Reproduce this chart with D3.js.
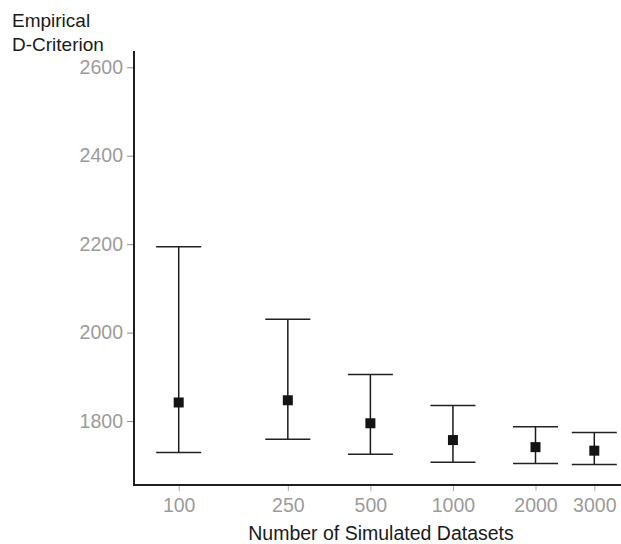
<!DOCTYPE html>
<html>
<head>
<meta charset="utf-8">
<script src="https://cdn.jsdelivr.net/npm/d3@7/dist/d3.min.js"></script>
<style>
  html, body { margin: 0; padding: 0; background: #fff; }
  svg { display: block; font-family: Arial, "Liberation Sans", sans-serif; }
</style>
</head>
<body>
<svg id="chart" width="621" height="544"></svg>
<script>
// Number of simulated datasets (x) and the empirical D-criterion summary
const datasetSizes = [100, 250, 500, 1000, 2000, 3000];
const meanValues   = [1842, 1847, 1795, 1757, 1741, 1733];
const lowerValues  = [1729, 1759, 1725, 1707, 1704, 1702];
const upperValues  = [2194, 2030, 1905, 1835, 1787, 1774];
const yTickValues  = [1800, 2000, 2200, 2400, 2600];
const xTickLabels  = ["100", "250", "500", "1000", "2000", "3000"];

const svg = d3.select("#chart");
const W = 621, H = 544;
const plot = { left: 134, right: 621, top: 51, bottom: 485 };

// Log-spaced x positions (the last category sits a little wider)
const x = d3.scaleLog()
  .domain([100, 2000, 3000])
  .range([178.7, 535.5, 594.3]);

const y = d3.scaleLinear()
  .domain([1655.4, 2636.8])
  .range([plot.bottom, plot.top]);

const rows = datasetSizes.map((n, i) => ({
  n, mean: meanValues[i], lo: lowerValues[i], hi: upperValues[i]
}));

// Y axis
const yAxis = d3.axisLeft(y).tickValues(yTickValues).tickSize(7).tickPadding(4).tickFormat(d3.format("d"));
const gy = svg.append("g").attr("transform", `translate(${plot.left},0)`).call(yAxis);
gy.select(".domain").remove();
gy.selectAll(".tick line").attr("stroke", "#8c8c8c").attr("stroke-width", 1);
gy.selectAll(".tick text").attr("fill", "#9b9b9b").style("font-size", "19.5px");

// X axis
const xAxis = d3.axisBottom(x).tickValues(datasetSizes).tickSize(6).tickPadding(7)
  .tickFormat((d, i) => xTickLabels[i]);
const gx = svg.append("g").attr("transform", `translate(0,${plot.bottom})`).call(xAxis);
gx.select(".domain").remove();
gx.selectAll(".tick line").attr("stroke", "#a8a8a8").attr("stroke-width", 1);
gx.selectAll(".tick text").attr("fill", "#9b9b9b").style("font-size", "19.5px");

// Axis frame lines (left and bottom)
svg.append("path")
  .attr("d", `M${plot.left},${plot.top}V${plot.bottom}H${plot.right}`)
  .attr("fill", "none").attr("stroke", "#1e1e1e").attr("stroke-width", 2);

// Error bars
const capHalf = 22.5;
const bars = svg.append("g").selectAll("g").data(rows).join("g");
bars.append("line")
  .attr("x1", d => x(d.n)).attr("x2", d => x(d.n))
  .attr("y1", d => y(d.lo)).attr("y2", d => y(d.hi))
  .attr("stroke", "#1a1a1a").attr("stroke-width", 1.5);
bars.append("line")
  .attr("x1", d => x(d.n) - capHalf).attr("x2", d => x(d.n) + capHalf)
  .attr("y1", d => y(d.hi)).attr("y2", d => y(d.hi))
  .attr("stroke", "#222").attr("stroke-width", 1.5);
bars.append("line")
  .attr("x1", d => x(d.n) - capHalf).attr("x2", d => x(d.n) + capHalf)
  .attr("y1", d => y(d.lo)).attr("y2", d => y(d.lo))
  .attr("stroke", "#222").attr("stroke-width", 1.5);

// Mean markers
const sq = 10;
bars.append("rect")
  .attr("x", d => x(d.n) - sq / 2).attr("y", d => y(d.mean) - sq / 2)
  .attr("width", sq).attr("height", sq)
  .attr("fill", "#141414");

// Axis titles
const yTitle = svg.append("text").attr("fill", "#1a1a1a").style("font-size", "19px");
yTitle.append("tspan").attr("x", 12).attr("y", 27).text("Empirical");
yTitle.append("tspan").attr("x", 12).attr("y", 51).text("D-Criterion");

svg.append("text")
  .attr("x", 381).attr("y", 540)
  .attr("text-anchor", "middle")
  .attr("fill", "#1a1a1a").style("font-size", "19.5px")
  .text("Number of Simulated Datasets");
</script>
</body>
</html>
